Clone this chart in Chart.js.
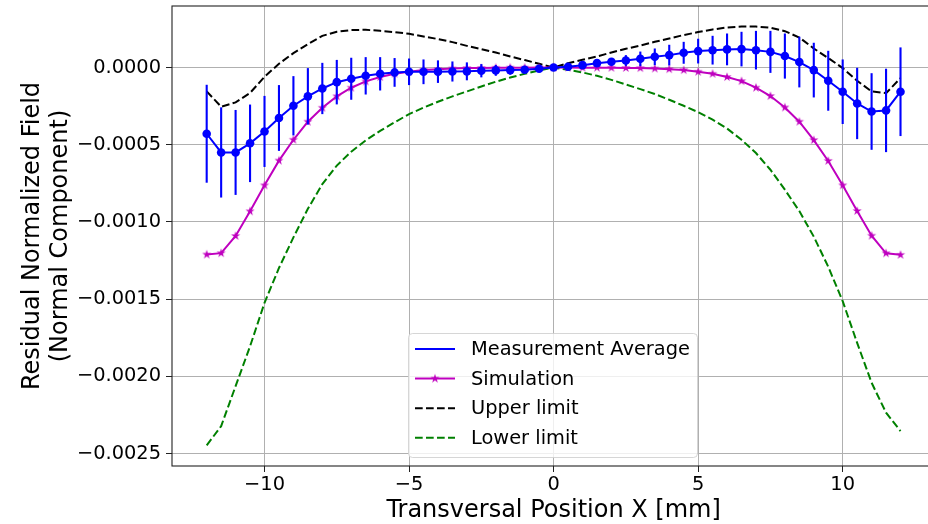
<!DOCTYPE html>
<html>
<head>
<meta charset="utf-8">
<script src="https://cdn.jsdelivr.net/npm/chart.js@4/dist/chart.umd.min.js"></script>
<style>
    html, body { margin: 0; padding: 0; background: #fff; overflow: hidden; width: 928px; height: 524px; }
    canvas { display: block; }
</style>
</head>
<body>
<canvas id="chart" width="940" height="524"></canvas>
<script>
// transversal positions [mm]
const xPositions = [-12, -11.5, -11, -10.5, -10, -9.5, -9, -8.5, -8, -7.5, -7, -6.5, -6, -5.5, -5, -4.5, -4, -3.5, -3, -2.5, -2, -1.5, -1, -0.5, 0,
    0.5, 1, 1.5, 2, 2.5, 3, 3.5, 4, 4.5, 5, 5.5, 6, 6.5, 7, 7.5, 8, 8.5, 9, 9.5, 10, 10.5, 11, 11.5, 12];

const measAverage = [-0.000429, -0.000550, -0.000550, -0.000491, -0.000414, -0.000327, -0.000248, -0.000187, -0.000136, -0.000095,
    -0.000073, -0.000054, -0.000041, -0.000032, -0.000028, -0.000028, -0.000027, -0.000026, -0.000025, -0.000021,
    -0.000019, -0.000017, -0.000015, -0.000008, 0,
    0.000005, 0.000015, 0.000028, 0.000037, 0.000045, 0.000056, 0.000069, 0.000080, 0.000095, 0.000106,
    0.000112, 0.000117, 0.000119, 0.000112, 0.000101, 0.000074, 0.000035, -0.000017, -0.000086, -0.000157,
    -0.000233, -0.000285, -0.000278, -0.000157];

const measError = [0.000317, 0.000292, 0.000275, 0.000251, 0.000230, 0.000213, 0.000192, 0.000183, 0.000166, 0.000144,
    0.000136, 0.000121, 0.000108, 0.000093, 0.000086, 0.000080, 0.000073, 0.000065, 0.000058, 0.000043,
    0.000035, 0.000030, 0.000020, 0.000010, 0,
    0.000005, 0.000010, 0.000015, 0.000024, 0.000035, 0.000047, 0.000054, 0.000067, 0.000071, 0.000080,
    0.000093, 0.000103, 0.000112, 0.000125, 0.000136, 0.000146, 0.000164, 0.000177, 0.000194, 0.000209,
    0.000231, 0.000248, 0.000270, 0.000287];

const simulation = [-0.001211, -0.001202, -0.001091, -0.000931, -0.000763, -0.000603, -0.000468, -0.000351, -0.000261, -0.000187,
    -0.000131, -0.000090, -0.000062, -0.000040, -0.000027, -0.000017, -0.000011, -0.000007, -0.000004, -0.000003,
    -0.000002, -0.000001, -0.000001, 0, 0,
    0, -0.000001, -0.000001, -0.000002, -0.000003, -0.000004, -0.000007, -0.000011, -0.000017, -0.000028,
    -0.000041, -0.000062, -0.000088, -0.000131, -0.000185, -0.000259, -0.000351, -0.000470, -0.000605, -0.000763,
    -0.000929, -0.001089, -0.001203, -0.001213];

const upperLimit = [-0.000155, -0.000254, -0.000226, -0.000165, -0.000060, 0.000024, 0.000093, 0.000151, 0.000205, 0.000231,
    0.000242, 0.000244, 0.000237, 0.000229, 0.000218, 0.000201, 0.000184, 0.000164, 0.000140, 0.000119,
    0.000097, 0.000071, 0.000048, 0.000024, 0,
    0.000028, 0.000050, 0.000071, 0.000097, 0.000121, 0.000142, 0.000166, 0.000188, 0.000210, 0.000229,
    0.000246, 0.000259, 0.000265, 0.000265, 0.000257, 0.000235, 0.000194, 0.000123, 0.000061, -0.000004,
    -0.000086, -0.000155, -0.000166, -0.000069];

const lowerLimit = [-0.002446, -0.002322, -0.002063, -0.001805, -0.001524, -0.001298, -0.001100, -0.000915, -0.000755, -0.000635,
    -0.000545, -0.000472, -0.000410, -0.000355, -0.000302, -0.000260, -0.000222, -0.000187, -0.000155, -0.000123,
    -0.000092, -0.000065, -0.000041, -0.000019, 0,
    -0.000015, -0.000032, -0.000054, -0.000080, -0.000110, -0.000140, -0.000172, -0.000209, -0.000248, -0.000289,
    -0.000338, -0.000395, -0.000468, -0.000554, -0.000662, -0.000791, -0.000930, -0.001095, -0.001290, -0.001513,
    -0.001783, -0.002041, -0.002235, -0.002354];

const xTicks = [-10, -5, 0, 5, 10];
const yTicks = [0, -0.0005, -0.0010, -0.0015, -0.0020, -0.0025];
const seriesNames = ['Measurement Average', 'Simulation', 'Upper limit', 'Lower limit'];

const FONT = 'DejaVu Sans';
const DASH = [7.7, 3.3];
const BLUE = '#0000ff', MAGENTA = '#bf00bf', GREEN = '#008000';

function toPoints(ys) {
    return xPositions.map((x, i) => ({x: x, y: ys[i]}));
}

function fmtMinus(s) {
    return s.replace('-', '\u2212');
}

// filled 5-point star like matplotlib '*'
function makeStar(color, r) {
    const c = document.createElement('canvas');
    const size = Math.ceil(r * 2 + 2);
    c.width = size; c.height = size;
    const g = c.getContext('2d');
    const cx = size / 2, cy = size / 2, ri = r * 0.381966;
    g.beginPath();
    for (let k = 0; k < 10; k++) {
        const rad = k % 2 === 0 ? r : ri;
        const a = -Math.PI / 2 + k * Math.PI / 5;
        const px = cx + rad * Math.cos(a), py = cy + rad * Math.sin(a);
        if (k === 0) g.moveTo(px, py); else g.lineTo(px, py);
    }
    g.closePath();
    g.fillStyle = color;
    g.fill();
    return c;
}
const starImg = makeStar(MAGENTA, 4.8);

const errorBars = {
    id: 'errorBars',
    beforeDatasetDraw(chart, args) {
        if (args.index !== 0) return;
        const ctx = chart.ctx, xs = chart.scales.x, ys = chart.scales.y;
        ctx.save();
        ctx.strokeStyle = BLUE;
        ctx.lineWidth = 2.1;
        xPositions.forEach((x, i) => {
            if (!measError[i]) return;
            const px = xs.getPixelForValue(x);
            ctx.beginPath();
            ctx.moveTo(px, ys.getPixelForValue(measAverage[i] + measError[i]));
            ctx.lineTo(px, ys.getPixelForValue(measAverage[i] - measError[i]));
            ctx.stroke();
        });
        ctx.restore();
    }
};

const framePlugin = {
    id: 'frame',
    afterDatasetsDraw(chart) {
        const {ctx, chartArea: a} = chart;
        ctx.save();
        ctx.strokeStyle = '#222';
        ctx.lineWidth = 1.1;
        ctx.strokeRect(a.left, a.top, a.right - a.left, a.bottom - a.top);
        ctx.restore();
    }
};

const legendPlugin = {
    id: 'boxLegend',
    afterDraw(chart) {
        const ctx = chart.ctx;
        const bx = 408.5, by = 333.5, bw = 289, bh = 124, r = 4;
        ctx.save();
        ctx.beginPath();
        ctx.roundRect(bx, by, bw, bh, r);
        ctx.fillStyle = 'rgba(255,255,255,0.8)';
        ctx.fill();
        ctx.strokeStyle = 'rgba(204,204,204,0.8)';
        ctx.lineWidth = 1;
        ctx.stroke();

        const styles = [
            {color: BLUE, dash: [], star: false},
            {color: MAGENTA, dash: [], star: true},
            {color: '#000', dash: DASH, star: false},
            {color: GREEN, dash: DASH, star: false}
        ];
        const x0 = 415, x1 = 455, tx = 471, y0 = 349, dy = 29.6;
        ctx.font = '19.4px "' + FONT + '"';
        ctx.textBaseline = 'middle';
        ctx.textAlign = 'left';
        seriesNames.forEach((name, i) => {
            const y = y0 + i * dy, st = styles[i];
            ctx.beginPath();
            ctx.setLineDash(st.dash);
            ctx.strokeStyle = st.color;
            ctx.lineWidth = 2;
            ctx.moveTo(x0, y);
            ctx.lineTo(x1, y);
            ctx.stroke();
            ctx.setLineDash([]);
            if (st.star) {
                ctx.drawImage(starImg, (x0 + x1) / 2 - starImg.width / 2, y - starImg.height / 2);
            }
            ctx.fillStyle = '#000';
            ctx.fillText(name, tx, y + 1);
        });
        ctx.restore();
    }
};

new Chart(document.getElementById('chart'), {
    type: 'line',
    data: {
        datasets: [
            {
                label: seriesNames[0],
                data: toPoints(measAverage),
                borderColor: BLUE,
                backgroundColor: BLUE,
                borderWidth: 2,
                pointRadius: 4.3,
                pointBorderWidth: 0,
                pointStyle: 'circle'
            },
            {
                label: seriesNames[1],
                data: toPoints(simulation),
                borderColor: MAGENTA,
                backgroundColor: MAGENTA,
                borderWidth: 2,
                pointStyle: starImg,
                pointRadius: 4
            },
            {
                label: seriesNames[2],
                data: toPoints(upperLimit),
                borderColor: '#000',
                borderWidth: 2,
                borderDash: DASH,
                pointRadius: 0
            },
            {
                label: seriesNames[3],
                data: toPoints(lowerLimit),
                borderColor: GREEN,
                borderWidth: 2,
                borderDash: DASH,
                pointRadius: 0
            }
        ]
    },
    options: {
        responsive: false,
        animation: false,
        devicePixelRatio: 1,
        layout: {autoPadding: false, padding: {left: 0, top: 6, right: 4.8, bottom: 0}},
        plugins: {
            legend: {display: false},
            tooltip: {enabled: false}
        },
        elements: {line: {tension: 0}},
        scales: {
            x: {
                type: 'linear',
                min: -13.2,
                max: 13.2,
                afterBuildTicks(scale) {
                    scale.ticks = xTicks.map(v => ({value: v}));
                },
                afterFit(scale) {
                    scale.height = 58;
                    scale.paddingLeft = 0;
                    scale.paddingRight = 0;
                },
                grid: {
                    color: '#b0b0b0',
                    lineWidth: 1,
                    tickColor: '#222',
                    tickLength: 6,
                    drawTicks: true
                },
                border: {display: false},
                ticks: {
                    color: '#000',
                    padding: 1,
                    maxRotation: 0,
                    font: {family: FONT, size: 19.4},
                    callback: v => fmtMinus(String(v))
                },
                title: {
                    display: true,
                    text: 'Transversal Position X [mm]',
                    color: '#000',
                    font: {family: FONT, size: 24, lineHeight: 1.1},
                    padding: {top: 0, bottom: 0}
                }
            },
            y: {
                min: -0.00258,
                max: 0.000398,
                afterBuildTicks(scale) {
                    scale.ticks = yTicks.map(v => ({value: v}));
                },
                afterFit(scale) {
                    scale.width = 172;
                    scale.paddingTop = 0;
                    scale.paddingBottom = 0;
                },
                grid: {
                    color: '#b0b0b0',
                    lineWidth: 1,
                    tickColor: '#222',
                    tickLength: 6,
                    drawTicks: true
                },
                border: {display: false},
                ticks: {
                    color: '#000',
                    padding: 5,
                    font: {family: FONT, size: 19.4},
                    callback: v => fmtMinus(Math.abs(v) < 1e-12 ? '0.0000' : v.toFixed(4))
                },
                title: {
                    display: true,
                    text: ['Residual Normalized Field', '(Normal Component)'],
                    color: '#000',
                    font: {family: FONT, size: 24, lineHeight: 1.2},
                    padding: {top: 18, bottom: 0}
                }
            }
        }
    },
    plugins: [errorBars, framePlugin, legendPlugin]
});
</script>
</body>
</html>
